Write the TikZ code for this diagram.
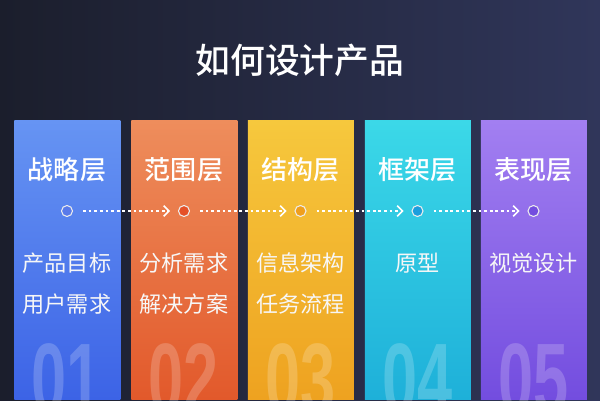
\documentclass[tikz,border=0pt]{standalone}
\usepackage{xcolor}
\usepackage{fontspec}
\setmainfont{Noto Sans CJK SC}
\newfontfamily\medfont{Noto Sans CJK SC Medium}
\newfontfamily\numfont{Liberation Sans}
\usepackage{tikz}
\usetikzlibrary{arrows.meta}
\usetikzlibrary{positioning}

\definecolor{bgl}{HTML}{1B1E2C}
\definecolor{bgr}{HTML}{30365A}
\definecolor{blueT}{HTML}{6694F3}
\definecolor{blueB}{HTML}{3C63E6}
\definecolor{orangeT}{HTML}{EE8D5C}
\definecolor{orangeB}{HTML}{E2592B}
\definecolor{yellowT}{HTML}{F6C83D}
\definecolor{yellowB}{HTML}{EEA220}
\definecolor{cyanT}{HTML}{3BD8E8}
\definecolor{cyanB}{HTML}{1EB0D9}
\definecolor{purpleT}{HTML}{A27FF1}
\definecolor{purpleB}{HTML}{734DDF}

\tikzset{
  layer/.style={rectangle, draw=none, minimum width=106*0.02cm, minimum height=279*0.02cm, anchor=south west, inner sep=0},
  heading/.style={text=white, font=\medfont\fontsize{14.8}{16}\selectfont, inner sep=0},
  item/.style={text=white!94!gray, font=\fontsize{12.6}{14}\selectfont, inner sep=0},
  dot/.style={circle, draw=white!85!gray, line width=0.6pt, minimum size=11*0.02cm, inner sep=0},
  flow/.style={draw=white, line width=0.85pt, dash pattern=on 1.6pt off 1.6pt, shorten <=5.7pt, shorten >=4.5pt, -{Straight Barb[length=3pt, width=6pt, line width=0.85pt]}},
  number/.style={text=white, opacity=0.2, font=\numfont\bfseries\fontsize{57}{60}\selectfont, xscale=0.63, anchor=north, inner sep=0},
}

\begin{document}
\begin{tikzpicture}[x=0.02cm, y=0.02cm]
\useasboundingbox (0,0) rectangle (600,400);
\clip (0,0) rectangle (600,400);
\shade [left color=bgl, right color=bgr] (0,0) rectangle (600,400);

\node [text=white, font=\medfont\fontsize{19.8}{22}\selectfont, inner sep=0] (title) at (300, 340) {如何设计产品};

\node [layer, top color=blueT, bottom color=blueB] (L1) at (14, 0) {};
\node [layer, top color=orangeT, bottom color=orangeB] (L2) at (131, 0) {};
\node [layer, top color=yellowT, bottom color=yellowB] (L3) at (247.5, 0) {};
\node [layer, top color=cyanT, bottom color=cyanB] (L4) at (364.5, 0) {};
\node [layer, top color=purpleT, bottom color=purpleB] (L5) at (480.5, 0) {};

\node [heading] (H1) at (67, 230) {战略层};
\node [heading] (H2) at (184, 230) {范围层};
\node [heading] (H3) at (300.5, 230) {结构层};
\node [heading] (H4) at (417.5, 230) {框架层};
\node [heading] (H5) at (533.5, 230) {表现层};

\node [dot, fill=blueB!85!white] (d1) at (67, 189) {};
\node [dot, fill=orangeB!90!red] (d2) at (184, 189) {};
\node [dot, fill=yellowB!90!orange] (d3) at (300.5, 189) {};
\node [dot, fill=cyanB!90!blue] (d4) at (417.5, 189) {};
\node [dot, fill=purpleB] (d5) at (533.5, 189) {};
\draw [flow] (d1) to (d2);
\draw [flow] (d2) to (d3);
\draw [flow] (d3) to (d4);
\draw [flow] (d4) to (d5);

\node [item] (A1) at (67, 137) {产品目标};
\node [item] (B1) at (67, 96) {用户需求};
\node [item] (A2) at (184, 137) {分析需求};
\node [item] (B2) at (184, 96) {解决方案};
\node [item] (A3) at (300.5, 137) {信息架构};
\node [item] (B3) at (300.5, 96) {任务流程};
\node [item] (A4) at (417.5, 137) {原型};
\node [item] (A5) at (533.5, 137) {视觉设计};

\node [number] (N1) at (67, 57) {01};
\node [number] (N2) at (184, 57) {02};
\node [number] (N3) at (300.5, 57) {03};
\node [number] (N4) at (417.5, 57) {04};
\node [number] (N5) at (533.5, 57) {05};
\end{tikzpicture}
\end{document}
